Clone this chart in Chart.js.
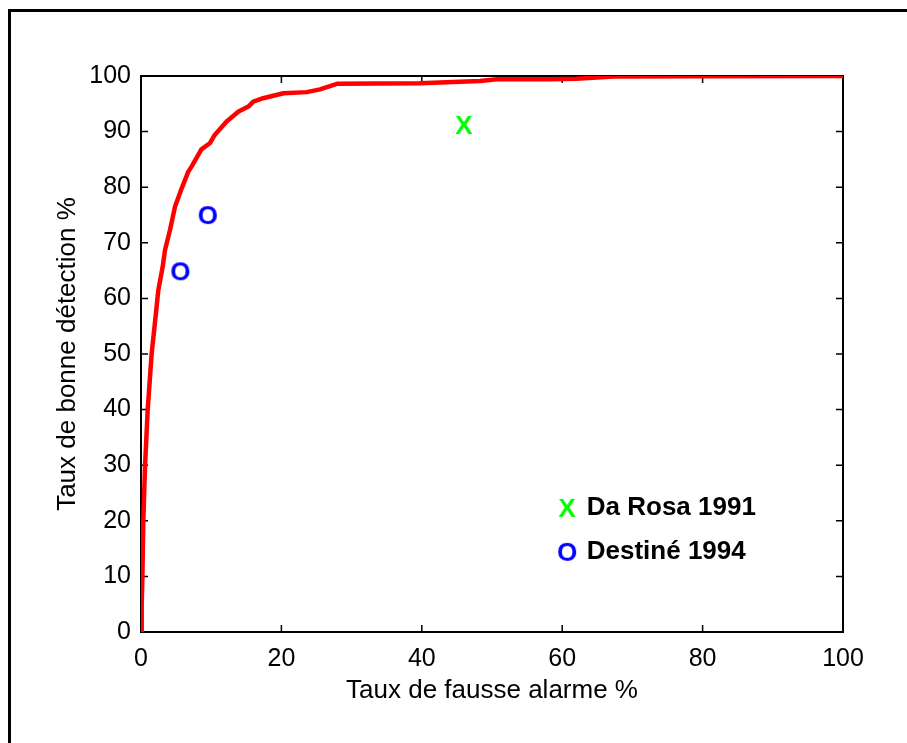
<!DOCTYPE html>
<html>
<head>
<meta charset="utf-8">
<script src="https://cdn.jsdelivr.net/npm/chart.js@4.4.1/dist/chart.umd.min.js"></script>
<style>
  body { margin: 0; background: #fff; }
  canvas { display: block; }
</style>
</head>
<body>
<canvas id="rocChart" width="907" height="743"></canvas>
<script>
// ROC curve (false alarm %, good detection %)
const rocFalseAlarm = [0, 0.1, 0.2, 0.33, 0.57, 0.95, 1.52, 2.0, 2.47, 3.09, 3.42, 4.13, 4.84, 5.8, 6.74, 7.2, 8.6, 9.8, 10.5, 12.2, 13.9, 15.3, 16.0, 17.4, 20.3, 23.6, 25.5, 27.9, 39.7, 48.3, 50.7, 58.3, 62.0, 67.3, 80.0, 100];
const rocDetection = [0, 5, 10, 20, 29.7, 39.9, 50.1, 55.8, 61.5, 65.7, 68.7, 72.3, 76.5, 79.8, 82.8, 83.7, 86.8, 87.9, 89.4, 91.8, 93.6, 94.5, 95.4, 96.0, 96.9, 97.1, 97.6, 98.6, 98.7, 99.1, 99.4, 99.4, 99.5, 99.9, 99.95, 100];

// published results
const daRosaX = [46.0];
const daRosaY = [91.0];
const destineX = [5.6, 9.5];
const destineY = [64.7, 74.8];

const legendLabels = ['Da Rosa 1991', 'Destiné 1994'];
const xTitle = 'Taux de fausse alarme %';
const yTitle = 'Taux de bonne détection %';

const FONT = '"Liberation Sans", Arial, Helvetica, sans-serif';

// draw a bold letter into a small canvas, used as point style
function letterMarker(ch, color) {
    const c = document.createElement('canvas');
    c.width = 30;
    c.height = 30;
    const g = c.getContext('2d');
    g.font = 'bold 26px ' + FONT;
    g.fillStyle = color;
    g.textAlign = 'center';
    g.textBaseline = 'middle';
    g.fillText(ch, 15, 16);
    return c;
}

const markX = letterMarker('X', '#00ff00');
const markO = letterMarker('O', '#0000ff');

const toPoints = (xs, ys) => xs.map((v, i) => ({x: v, y: ys[i]}));

// outer frame, box with inward ticks
const framePlugin = {
    id: 'frame',
    beforeDraw(chart) {
        const ctx = chart.ctx;
        ctx.save();
        ctx.strokeStyle = '#000';
        ctx.lineWidth = 3;
        ctx.strokeRect(9.5, 10.5, 1200, 1200);
        ctx.restore();
    },
    beforeDatasetsDraw(chart) {
        const {ctx, chartArea: a, scales: {x, y}} = chart;
        ctx.save();
        ctx.strokeStyle = '#000';
        ctx.lineWidth = 2;
        ctx.strokeRect(a.left, a.top, a.right - a.left, a.bottom - a.top);
        ctx.lineWidth = 1.5;
        ctx.beginPath();
        x.ticks.forEach(t => {
            const px = x.getPixelForValue(t.value);
            ctx.moveTo(px, a.bottom); ctx.lineTo(px, a.bottom - 7);
            ctx.moveTo(px, a.top); ctx.lineTo(px, a.top + 7);
        });
        y.ticks.forEach(t => {
            const py = y.getPixelForValue(t.value);
            ctx.moveTo(a.left, py); ctx.lineTo(a.left + 7, py);
            ctx.moveTo(a.right, py); ctx.lineTo(a.right - 7, py);
        });
        ctx.stroke();
        ctx.restore();
    },
    afterDatasetsDraw(chart) {
        // legend written inside the axes, like the original
        const {ctx, scales: {x, y}} = chart;
        const marks = [markX, markO];
        const rows = [22.5, 14.6];
        ctx.save();
        ctx.font = 'bold 26px ' + FONT;
        ctx.fillStyle = '#000';
        ctx.textBaseline = 'middle';
        ctx.textAlign = 'left';
        legendLabels.forEach((lbl, i) => {
            const py = y.getPixelForValue(rows[i]);
            const m = marks[i];
            ctx.drawImage(m, x.getPixelForValue(60.7) - m.width / 2, py - m.height / 2 + 2);
            ctx.fillText(lbl, x.getPixelForValue(63.5), py + 1);
        });
        ctx.restore();
    }
};

const ctx = document.getElementById('rocChart').getContext('2d');
new Chart(ctx, {
    type: 'scatter',
    data: {
        datasets: [{
            label: 'ROC',
            data: toPoints(rocFalseAlarm, rocDetection),
            showLine: true,
            borderColor: '#ff0000',
            backgroundColor: '#ff0000',
            borderWidth: 4.5,
            borderJoinStyle: 'round',
            borderCapStyle: 'round',
            pointRadius: 0,
            tension: 0
        }, {
            label: legendLabels[0],
            data: toPoints(daRosaX, daRosaY),
            pointStyle: markX,
            pointRadius: 12
        }, {
            label: legendLabels[1],
            data: toPoints(destineX, destineY),
            pointStyle: markO,
            pointRadius: 12
        }]
    },
    options: {
        responsive: false,
        animation: false,
        layout: {
            padding: {top: 76, right: 64, left: 52, bottom: 0}
        },
        plugins: {
            legend: {display: false},
            tooltip: {enabled: false}
        },
        scales: {
            x: {
                type: 'linear',
                min: 0,
                max: 100,
                afterFit: s => { s.height = 111; },
                grid: {drawOnChartArea: false, drawTicks: false},
                border: {display: false},
                ticks: {
                    stepSize: 20,
                    color: '#000',
                    padding: 12,
                    maxRotation: 0,
                    font: {family: FONT, size: 25}
                },
                title: {
                    display: true,
                    text: xTitle,
                    color: '#000',
                    padding: {top: 0, bottom: 37},
                    font: {family: FONT, size: 26}
                }
            },
            y: {
                type: 'linear',
                min: 0,
                max: 100,
                afterFit: s => { s.width = 89; },
                grid: {drawOnChartArea: false, drawTicks: false},
                border: {display: false},
                ticks: {
                    stepSize: 10,
                    color: '#000',
                    padding: 10,
                    font: {family: FONT, size: 25}
                },
                title: {
                    display: true,
                    text: yTitle,
                    color: '#000',
                    padding: {top: 0, bottom: 0},
                    font: {family: FONT, size: 26}
                }
            }
        }
    },
    plugins: [framePlugin]
});
</script>
</body>
</html>
